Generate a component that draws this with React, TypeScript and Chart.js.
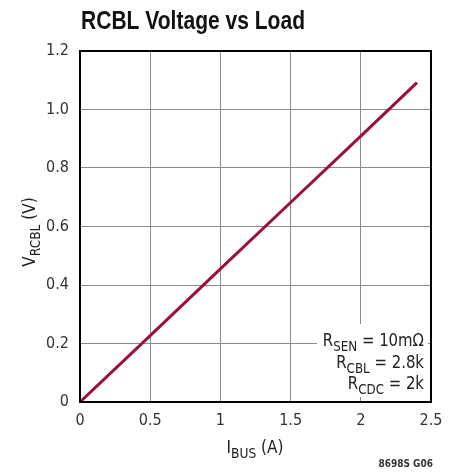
import React, { useEffect, useRef } from "react";
import { Chart, registerables } from "chart.js";

Chart.register(...registerables);

const loadCurrent = [0, 0.5, 1.0, 1.5, 2.0, 2.4];
const rcblVoltage = [0, 0.227, 0.455, 0.682, 0.909, 1.092];
const xTicks = [0, 0.5, 1, 1.5, 2, 2.5];
const yTicks = [0, 0.2, 0.4, 0.6, 0.8, 1.0, 1.2];

const titleText = "RCBL Voltage vs Load";
const footnote = "8698S G06";
const annotationLines: { t: string; sub?: boolean }[][] = [
  [{ t: "R" }, { t: "SEN", sub: true }, { t: " = 10mΩ" }],
  [{ t: "R" }, { t: "CBL", sub: true }, { t: " = 2.8k" }],
  [{ t: "R" }, { t: "CDC", sub: true }, { t: " = 2k" }],
];
const yTitle = [{ t: "V" }, { t: "RCBL", sub: true }, { t: " (V)" }];
const xTitle = [{ t: "I" }, { t: "BUS", sub: true }, { t: " (A)" }];

const FONT = '"DejaVu Sans Condensed", "Liberation Sans Narrow", sans-serif';
const TITLE_FONT = '"Liberation Sans", Arial, sans-serif';
const LINE_COLOR = "#9c0f3c";

function drawSegs(
  ctx: CanvasRenderingContext2D,
  segs: { t: string; sub?: boolean }[],
  x: number,
  y: number,
  size: number,
  align: "left" | "right" | "center",
  sx = 1
) {
  const subSize = size * 0.8;
  const widths = segs.map((s) => {
    ctx.font = `${s.sub ? subSize : size}px ${FONT}`;
    return ctx.measureText(s.t).width * sx;
  });
  const total = widths.reduce((a, b) => a + b, 0);
  let cx = align === "left" ? x : align === "right" ? x - total : x - total / 2;
  ctx.textAlign = "left";
  ctx.textBaseline = "alphabetic";
  segs.forEach((s, i) => {
    ctx.font = `${s.sub ? subSize : size}px ${FONT}`;
    ctx.save();
    ctx.translate(cx, s.sub ? y + size * 0.3 : y);
    ctx.scale(sx, 1);
    ctx.fillText(s.t, 0, 0);
    ctx.restore();
    cx += widths[i];
  });
}

const overlay = {
  id: "overlay",
  afterDraw(chart: any) {
    const ctx: CanvasRenderingContext2D = chart.ctx;
    const { left, top, right, bottom } = chart.chartArea;
    ctx.save();
    // annotation box
    ctx.fillStyle = "#ffffff";
    ctx.fillRect(317, 324, right - 3 - 317, 397 - 324);
    // frame
    ctx.strokeStyle = "#000000";
    ctx.lineWidth = 2;
    ctx.strokeRect(left, top, right - left, bottom - top);
    // title
    ctx.fillStyle = "#111111";
    ctx.font = `bold 26px ${TITLE_FONT}`;
    ctx.textAlign = "left";
    ctx.textBaseline = "alphabetic";
    const tw = ctx.measureText(titleText).width;
    ctx.save();
    ctx.translate(81, 29);
    ctx.scale(224 / tw, 1);
    ctx.fillText(titleText, 0, 0);
    ctx.restore();
    // annotations
    ctx.fillStyle = "#222222";
    annotationLines.forEach((segs, i) => {
      drawSegs(ctx, segs, 424, 346 + i * 21.5, 18, "right", 0.92);
    });
    // x title
    drawSegs(ctx, xTitle, 255, 453, 17, "center");
    // y title
    ctx.save();
    ctx.translate(35, 232);
    ctx.rotate(-Math.PI / 2);
    drawSegs(ctx, yTitle, 0, 0, 17, "center");
    ctx.restore();
    // footnote
    ctx.font = `bold 10px ${FONT}`;
    ctx.fillStyle = "#333333";
    ctx.textAlign = "right";
    ctx.fillText(footnote, 433, 467);
    ctx.restore();
  },
};

export default function App() {
  const ref = useRef<HTMLCanvasElement>(null);
  useEffect(() => {
    const chart = new Chart(ref.current!, {
      type: "line",
      data: {
        datasets: [
          {
            data: loadCurrent.map((x, i) => ({ x, y: rcblVoltage[i] })),
            borderColor: LINE_COLOR,
            borderWidth: 3,
            pointRadius: 0,
            tension: 0,
            fill: false,
          },
        ],
      },
      options: {
        responsive: false,
        animation: false,
        layout: { padding: { top: 51, right: 29, left: 0, bottom: 0 } },
        plugins: { legend: { display: false }, tooltip: { enabled: false } },
        scales: {
          x: {
            type: "linear",
            min: 0,
            max: 2.5,
            afterFit: (s: any) => {
              s.height = 71;
            },
            afterBuildTicks: (s: any) => {
              s.ticks = xTicks.map((v) => ({ value: v }));
            },
            ticks: {
              padding: 9,
              color: "#333333",
              font: { family: FONT, size: 16 },
              maxRotation: 0,
              callback: (v: any) => String(v),
            },
            grid: { color: "#8a8a8a", lineWidth: 1, drawTicks: false },
            border: { display: false },
          },
          y: {
            type: "linear",
            min: 0,
            max: 1.2,
            afterFit: (s: any) => {
              s.width = 80;
            },
            afterBuildTicks: (s: any) => {
              s.ticks = yTicks.map((v) => ({ value: v }));
            },
            ticks: {
              padding: 11,
              color: "#333333",
              font: { family: FONT, size: 16 },
              callback: (v: any) => (v === 0 ? "0" : Number(v).toFixed(1)),
            },
            grid: { color: "#8a8a8a", lineWidth: 1, drawTicks: false },
            border: { display: false },
          },
        },
      },
      plugins: [overlay],
    });
    return () => chart.destroy();
  }, []);
  return (
    <div style={{ position: "fixed", left: 0, top: 0, width: 460, height: 473, background: "#fff" }}>
      <canvas ref={ref} width={460} height={473} style={{ width: 460, height: 473 }} />
    </div>
  );
}
